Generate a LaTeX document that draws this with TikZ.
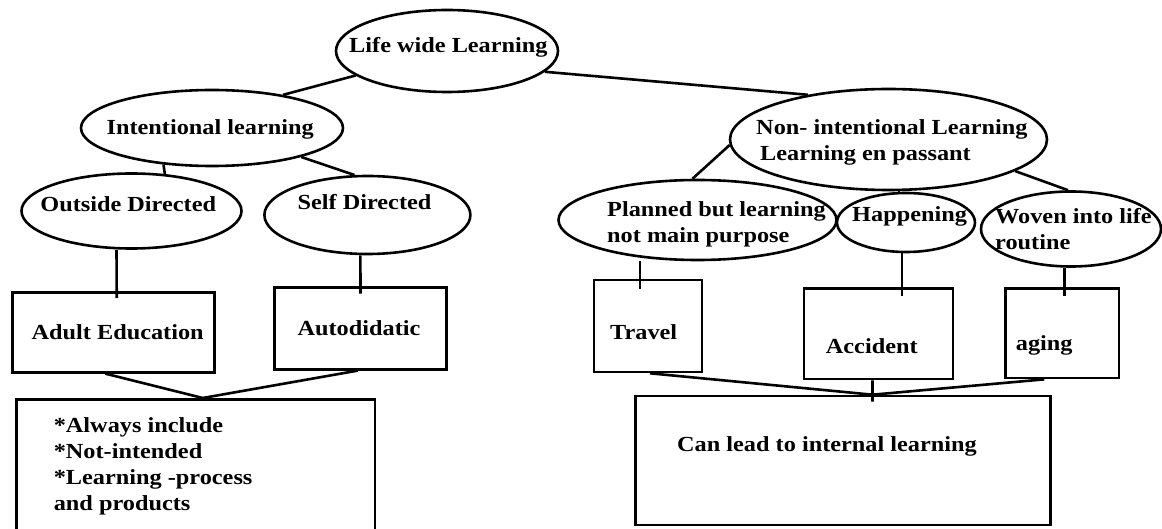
\documentclass[tikz,border=0pt]{standalone}
\usepackage{fontspec}
\setmainfont{Liberation Serif}[FakeStretch=1.13]
\usetikzlibrary{shapes.geometric}
\tikzset{
  ell/.style={draw, ellipse, inner sep=0pt, line width=2.6pt},
  box/.style={draw, rectangle, inner sep=0pt, line width=2.6pt},
  lbl/.style={font=\fontsize{21.5}{26}\selectfont\bfseries, inner sep=0pt, align=left, anchor=base west},
  conn/.style={line width=2.6pt}
}
\begin{document}
\begin{tikzpicture}[x=1pt, y=-1pt]
\fill[white] (0,0) rectangle (1162,529);
\useasboundingbox (0,0) rectangle (1162,529);
% ellipses
\node[ell, minimum width=222pt, minimum height=82pt] (life) at (447,51) {};
\node[ell, minimum width=262pt, minimum height=76pt] (int) at (212,128) {};
\node[ell, minimum width=220pt, minimum height=75pt] (out) at (131.5,211) {};
\node[ell, minimum width=206pt, minimum height=78pt] (self) at (367.4,215) {};
\node[ell, minimum width=317pt, minimum height=101pt] (non) at (888.5,139.5) {};
\node[ell, minimum width=278pt, minimum height=80pt] (plan) at (697.5,220) {};
\node[ell, minimum width=138pt, minimum height=59pt] (hap) at (906,222.5) {};
\node[ell, minimum width=180pt, minimum height=75pt] (wov) at (1071,229) {};
% boxes
\node[box, minimum width=202pt, minimum height=79.6pt] (adult) at (113.25,332.5) {};
\node[box, minimum width=171.8pt, minimum height=81.6pt] (auto) at (360.3,328.5) {};
\node[box, minimum width=358.5pt, minimum height=140.7pt] (bl) at (195.75,469.65) {};
\node[box, minimum width=108pt, minimum height=92pt] (travel) at (648,326) {};
\node[box, minimum width=149pt, minimum height=90.5pt] (acc) at (878.5,333.75) {};
\node[box, minimum width=113.3pt, minimum height=89.7pt] (aging) at (1062.3,333.2) {};
\node[box, minimum width=415.1pt, minimum height=129pt] (br) at (843.15,460.5) {};
% texts (multi-line texts are placed at the baseline of their last line)
\node[lbl] (tlife) at (349,52.7) {Life wide Learning};
\node[lbl] (tint) at (106.4,135) {Intentional learning};
\node[lbl] (tout) at (40.2,211.7) {Outside Directed};
\node[lbl] (tself) at (297.4,210) {Self Directed};
\node[lbl] (tnon) at (756,161) {Non- intentional Learning\\\hspace*{4pt}Learning en passant};
\node[lbl] (tplan) at (607,242.7) {Planned but learning\\not main purpose};
\node[lbl] (thap) at (852,222) {Happening};
\node[lbl] (twov) at (995,250) {Woven into life\\routine};
\node[lbl] (tadult) at (31.4,339) {Adult Education};
\node[lbl] (tauto) at (297.4,335) {Autodidatic};
\node[lbl] (tbl) at (53.6,510) {*Always include\\*Not-intended\\*Learning -process\\and products};
\node[lbl] (ttravel) at (610,339) {Travel};
\node[lbl] (tacc) at (825.7,353) {Accident};
\node[lbl] (taging) at (1015.7,351) {aging};
\node[lbl] (tbr) at (677,451.7) {Can lead to internal learning};
% connectors
\draw[conn] (life.195.7) -- (int.25.5);
\draw[conn] (life.348.5) -- (non.151.8);
\draw[conn] (int.217.9) -- (out.48.1);
\draw[conn] (int.342) -- (self.108.8);
\draw[conn] ([xshift=-15pt]out.south) -- ([xshift=3.5pt,yshift=-6.6pt]adult.north);
\draw[conn] ([xshift=-7pt]self.south) -- ([xshift=0.2pt,yshift=-7.3pt]auto.north);
\draw[conn] ([xshift=-8pt]adult.south) -- ([xshift=7pt]bl.north);
\draw[conn] ([xshift=-2.5pt]auto.south) -- ([xshift=7pt]bl.north);
\draw[conn] (non.182) -- ([xshift=-5pt]plan.north);
\draw[conn] ([xshift=10.5pt]non.south) -- ([xshift=-7pt]hap.north);
\draw[conn] (non.346.6) -- ([xshift=-3pt]wov.north);
\draw[conn] ([xshift=-57.5pt]plan.south) -- ([xshift=-8pt,yshift=-10pt]travel.north);
\draw[conn] ([xshift=-4pt]hap.south) -- ([xshift=23.5pt,yshift=-8.5pt]acc.north);
\draw[conn] ([xshift=-6.5pt]wov.south) -- ([xshift=2.2pt,yshift=-8.7pt]aging.north);
\draw[conn] ([xshift=2pt]travel.south) -- ([xshift=29.3pt]br.north);
\draw[conn] ([xshift=-6pt]acc.south) -- ([xshift=29.3pt,yshift=-7pt]br.north);
\draw[conn] ([xshift=-18pt]aging.south) -- ([xshift=29.3pt]br.north);
\end{tikzpicture}
\end{document}
